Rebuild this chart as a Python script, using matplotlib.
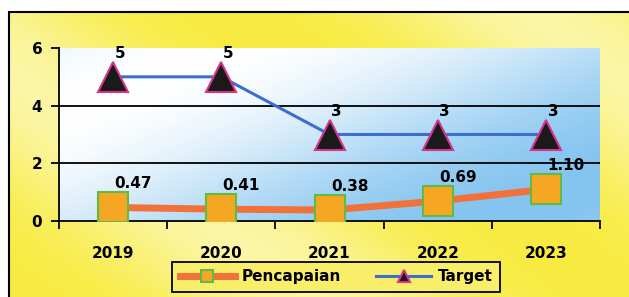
# Pencapaian vs Target chart

import matplotlib
import matplotlib.pyplot as plt
import numpy as np
from matplotlib.patches import Rectangle

matplotlib.rcParams.update({'font.size': 11, 'font.weight': 'bold'})

YEARS = ["2019", "2020", "2021", "2022", "2023"]
PENCAPAIAN = [0.47, 0.41, 0.38, 0.69, 1.10]
PENCAPAIAN_LABELS = ["0.47", "0.41", "0.38", "0.69", "1.10"]
TARGET = [5, 5, 3, 3, 3]
TARGET_LABELS = ["5", "5", "3", "3", "3"]

ORANGE = "#F2703A"
SQUARE = "#F5A623"
GREEN = "#5DBB46"
BLUE = "#3A6FD0"
MAGENTA = "#D4348A"

fig = plt.figure(figsize=(6.29, 2.97), dpi=100)
fig.patch.set_facecolor("white")

# outer yellow panel with soft gradient
bg = fig.add_axes([0, 0, 1, 1], zorder=-10)
bg.set_axis_off()
gx = np.linspace(0, 1, 200)
gy = np.linspace(0, 1, 100)
GX, GY = np.meshgrid(gx, gy)
w = 0.05 + 0.5 * np.abs(np.sin(3.2 * GX + 2.0 * GY)) ** 3
yel = np.array([0.97, 0.92, 0.22])
img = yel[None, None, :] * (1 - w[..., None]) + np.ones(3)[None, None, :] * w[..., None]
x0 = 9 / 629
bg.imshow(img, extent=[x0, 1.0, 0.0, 1 - 12 / 297], aspect='auto', origin='lower')
bg.set_xlim(0, 1)
bg.set_ylim(0, 1)
bg.add_patch(Rectangle((x0, -0.01), 1.02 - x0, 1.01 - 12 / 297, fill=False,
                       edgecolor="black", linewidth=1.5))

ax = fig.add_axes([59 / 629, 76 / 297, 541 / 629, 173 / 297])
x = np.arange(len(YEARS))

# plot area gradient (blue / white)
px = np.linspace(0, 1, 200)
py = np.linspace(0, 1, 100)
PX, PY = np.meshgrid(px, py)
pw = 0.5 + 0.5 * np.cos(2.4 * (PX - 0.8 * PY) + 1.2)
blue_bg = np.array([0.52, 0.77, 0.94])
pimg = blue_bg[None, None, :] * (1 - pw[..., None]) + np.ones(3)[None, None, :] * pw[..., None]
ax.imshow(pimg, extent=[-0.5, 4.5, 0, 6], aspect='auto', origin='lower', zorder=0)

ax.set_xlim(-0.5, 4.5)
ax.set_ylim(0, 6)

for yv in [2, 4]:
    ax.axhline(yv, color="black", linewidth=1.3, zorder=1)

ax.plot(x, PENCAPAIAN, color=ORANGE, linewidth=5, marker="s", markersize=21,
        markerfacecolor=SQUARE, markeredgecolor=GREEN, markeredgewidth=1.5,
        label="Pencapaian", zorder=3)
ax.plot(x, TARGET, color=BLUE, linewidth=2.2, marker="^", markersize=21,
        markerfacecolor="#1a1a1a", markeredgecolor=MAGENTA, markeredgewidth=1.5,
        label="Target", zorder=3)

for xi, v, s in zip(x, PENCAPAIAN, PENCAPAIAN_LABELS):
    ax.annotate(s, (xi, v), xytext=(20, 24), textcoords="offset pixels",
                ha="center", va="center", fontsize=11, fontweight="bold", zorder=4)
for xi, v, s in zip(x, TARGET, TARGET_LABELS):
    ax.annotate(s, (xi, v), xytext=(7, 23), textcoords="offset pixels",
                ha="center", va="center", fontsize=11, fontweight="bold", zorder=4)

ax.set_xticks(np.arange(-0.5, 5.0, 1.0))
ax.set_xticklabels([])
ax.set_xticks(x, minor=True)
ax.set_xticklabels(YEARS, minor=True, fontweight="bold")
ax.tick_params(axis='x', which='minor', length=0, pad=18)
ax.tick_params(axis='x', which='major', length=6, width=1.3, direction='out')
ax.set_yticks([0, 2, 4, 6])
ax.tick_params(axis='y', length=6, width=1.3, direction='out', pad=6)
for lab in ax.get_yticklabels():
    lab.set_fontweight("bold")

ax.spines['top'].set_visible(False)
ax.spines['right'].set_visible(False)
ax.spines['left'].set_linewidth(1.3)
ax.spines['bottom'].set_linewidth(1.3)

leg = ax.legend(loc='lower left', bbox_to_anchor=(172 / 629, 5 / 297),
                bbox_transform=fig.transFigure, ncol=2, fontsize=11,
                frameon=True, fancybox=False, facecolor="#F8EE6A",
                edgecolor="black", framealpha=1, handlelength=3.6,
                handletextpad=0.45, columnspacing=2.3, markerscale=0.4,
                borderpad=0.5, borderaxespad=0)
leg.get_frame().set_linewidth(1.3)
for t in leg.get_texts():
    t.set_fontweight("bold")

plt.savefig("out.png", dpi=100)
